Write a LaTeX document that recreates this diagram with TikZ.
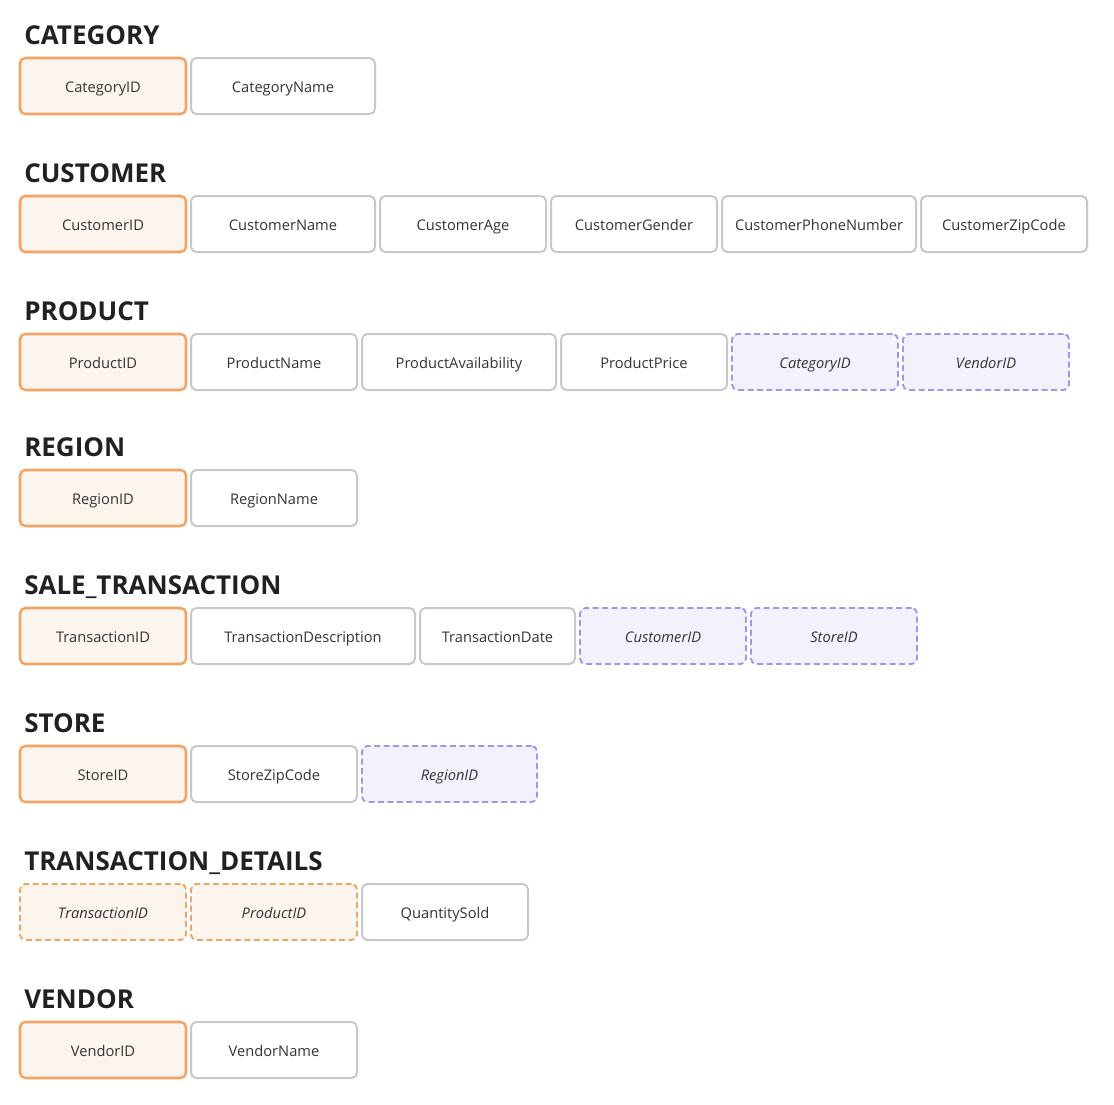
\documentclass[tikz,border=0pt]{standalone}
\usepackage{fontspec}
\setmainfont{Open Sans}
\usetikzlibrary{positioning}
\definecolor{pkfill}{RGB}{252,245,237}
\definecolor{pkline}{RGB}{242,164,100}
\definecolor{fkfill}{RGB}{243,241,253}
\definecolor{fkline}{RGB}{166,146,245}
\definecolor{attrline}{RGB}{200,200,200}
\definecolor{textgray}{RGB}{51,51,51}
\begin{document}
\begin{tikzpicture}[x=0.75pt,y=-0.75pt,node distance=3.75pt]
    \tikzstyle{field} = [rectangle,rounded corners=4pt,minimum width=124.5pt,minimum height=42pt,inner sep=0pt,outer sep=0pt,text height=10.2pt,text depth=0.4pt,text=textgray,font=\fontsize{11}{13}\selectfont]
    \tikzstyle{pk} = [field,draw=pkline,fill=pkfill,line width=1.9pt]
    \tikzstyle{attr} = [field,draw=attrline,fill=white,line width=1.5pt]
    \tikzstyle{fk} = [field,draw=fkline,fill=fkfill,line width=1.4pt,dash pattern=on 4.5pt off 2.6pt,font=\fontsize{11}{13}\selectfont\itshape]
    \tikzstyle{pfk} = [field,draw=pkline,fill=pkfill,line width=1.4pt,dash pattern=on 4.5pt off 2.6pt,font=\fontsize{11}{13}\selectfont\itshape]
    \tikzstyle{entity} = [anchor=base west,inner sep=0pt,text=black!87,font=\fontsize{19.5}{22}\selectfont\bfseries]
    \useasboundingbox (0,0) rectangle (1114,1104);
    % CATEGORY
    \node (cat-title)[entity] at (24,44) {CATEGORY};
    \node (cat-id)[pk,anchor=west] at (20,86) {CategoryID};
    \node (cat-name)[attr,minimum width=138pt,right=of cat-id] {CategoryName};
    % CUSTOMER
    \node (cust-title)[entity] at (24,182) {CUSTOMER};
    \node (cust-id)[pk,anchor=west] at (20,224) {CustomerID};
    \node (cust-name)[attr,minimum width=138pt,right=of cust-id] {CustomerName};
    \node (cust-age)[attr,right=of cust-name] {CustomerAge};
    \node (cust-gender)[attr,right=of cust-age] {CustomerGender};
    \node (cust-phone)[attr,minimum width=145.5pt,right=of cust-gender] {CustomerPhoneNumber};
    \node (cust-zip)[attr,right=of cust-phone] {CustomerZipCode};
    % PRODUCT
    \node (prod-title)[entity] at (24,320) {PRODUCT};
    \node (prod-id)[pk,anchor=west] at (20,362) {ProductID};
    \node (prod-name)[attr,right=of prod-id] {ProductName};
    \node (prod-avail)[attr,minimum width=145.5pt,right=of prod-name] {ProductAvailability};
    \node (prod-price)[attr,right=of prod-avail] {ProductPrice};
    \node (prod-cat)[fk,right=of prod-price] {CategoryID};
    \node (prod-vendor)[fk,right=of prod-cat] {VendorID};
    % REGION
    \node (reg-title)[entity] at (24,456) {REGION};
    \node (reg-id)[pk,anchor=west] at (20,498) {RegionID};
    \node (reg-name)[attr,right=of reg-id] {RegionName};
    % SALE_TRANSACTION
    \node (sale-title)[entity] at (24,594) {SALE\_TRANSACTION};
    \node (sale-id)[pk,anchor=west] at (20,636) {TransactionID};
    \node (sale-desc)[attr,minimum width=168pt,right=of sale-id] {TransactionDescription};
    \node (sale-date)[attr,minimum width=116.25pt,right=of sale-desc] {TransactionDate};
    \node (sale-cust)[fk,right=of sale-date] {CustomerID};
    \node (sale-store)[fk,right=of sale-cust] {StoreID};
    % STORE
    \node (store-title)[entity] at (24,732) {STORE};
    \node (store-id)[pk,anchor=west] at (20,774) {StoreID};
    \node (store-zip)[attr,right=of store-id] {StoreZipCode};
    \node (store-reg)[fk,minimum width=131.25pt,right=of store-zip] {RegionID};
    % TRANSACTION_DETAILS
    \node (td-title)[entity] at (24,870) {TRANSACTION\_DETAILS};
    \node (td-trans)[pfk,anchor=west] at (20,912) {TransactionID};
    \node (td-prod)[pfk,right=of td-trans] {ProductID};
    \node (td-qty)[attr,right=of td-prod] {QuantitySold};
    % VENDOR
    \node (vend-title)[entity] at (24,1008) {VENDOR};
    \node (vend-id)[pk,anchor=west] at (20,1050) {VendorID};
    \node (vend-name)[attr,right=of vend-id] {VendorName};
\end{tikzpicture}
\end{document}
